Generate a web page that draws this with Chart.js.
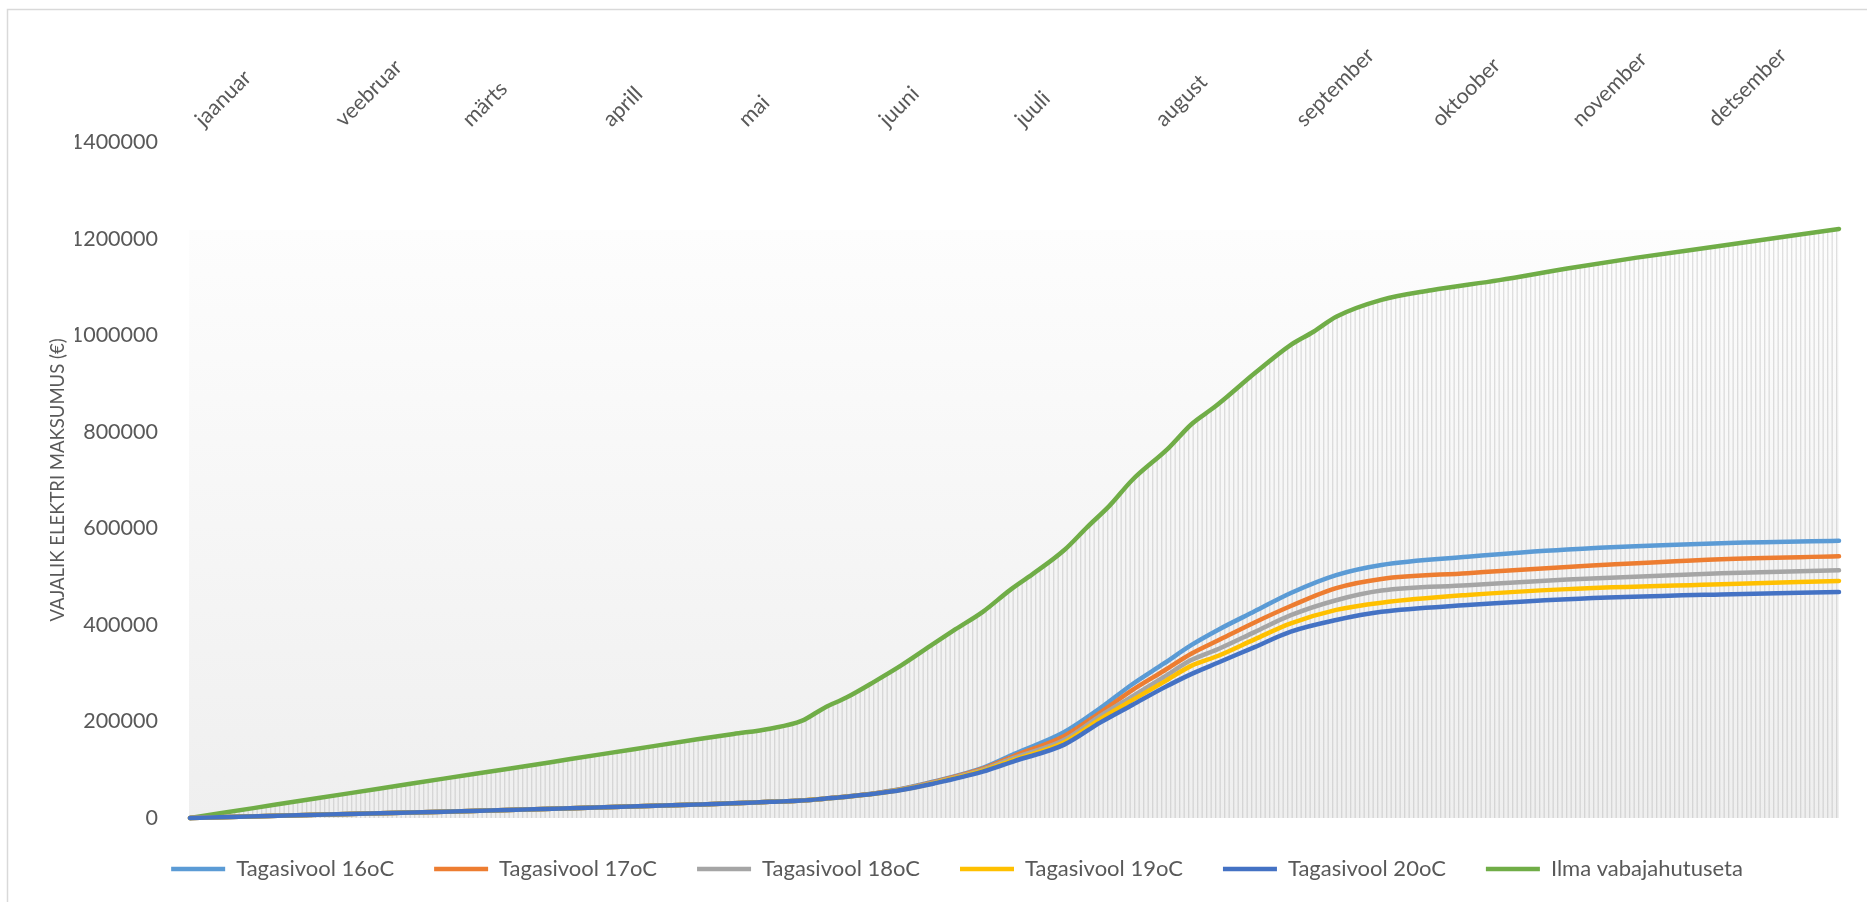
<!DOCTYPE html>
<html>
<head>
<meta charset="utf-8">
<title>Vajalik elektri maksumus</title>
<script src="https://cdn.jsdelivr.net/npm/chart.js@4.4.1/dist/chart.umd.min.js"></script>
<style>
  html, body { margin: 0; padding: 0; background: #ffffff; }
  #wrap { width: 1867px; height: 902px; position: relative; }
</style>
</head>
<body>
<div id="wrap"><canvas id="chart"></canvas></div>
<script>
// Month labels and the day of the year each month starts on
const monthNames = ['jaanuar', 'veebruar', 'märts', 'aprill', 'mai', 'juuni',
                    'juuli', 'august', 'september', 'oktoober', 'november', 'detsember'];
const monthStartDays = [0, 31, 59, 90, 120, 151, 181, 212, 243, 273, 304, 334];

// Cumulative cost without free cooling (€), by day of year
const noCoolingDays = [0, 14, 28, 42, 56, 70, 84, 98, 112, 120, 128, 135, 140, 145, 151, 157,
                       164, 169, 175, 181, 186, 193, 198, 203, 208, 216, 221, 226, 229, 235,
                       243, 248, 253, 263, 274, 289, 304, 319, 338, 364];
const noCooling = [0, 20500, 41000, 61000, 81500, 101500, 122000, 142500, 163000, 174000,
                   185000, 201000, 228000, 250000, 282000, 316000, 360000, 391000, 427000,
                   472000, 505000, 555000, 602000, 647000, 700000, 766000, 815000, 850000,
                   873000, 921000, 980000, 1007000, 1038000, 1073000, 1093000, 1114000,
                   1138000, 1160000, 1185000, 1220000];

// Cumulative cost with free cooling at different return temperatures (€)
const returnDays = [0, 28, 56, 84, 112, 120, 128, 135, 140, 145, 151, 157, 164, 175, 182,
                    193, 201, 208, 215, 221, 227, 235, 243, 253, 263, 282, 304, 338, 364];
const return16 = [0, 6500, 13000, 20000, 28000, 30500, 33500, 36000, 40000, 44500, 51000,
                  60000, 75000, 104000, 133000, 178000, 228000, 277000, 320000, 358000,
                  390000, 428000, 466000, 503000, 524000, 541000, 556000, 569000, 574000];
const return17 = [0, 6500, 13000, 20000, 28000, 30500, 33500, 36000, 40000, 44400, 50800,
                  59500, 74000, 102000, 129000, 170000, 219000, 265000, 305000, 340000,
                  368000, 405000, 439000, 476000, 495000, 507000, 520000, 536000, 542000];
const return18 = [0, 6500, 13000, 20000, 28000, 30500, 33500, 36000, 40000, 44200, 50500,
                  59000, 73000, 100000, 125000, 162000, 212000, 252000, 292000, 327000,
                  350000, 385000, 420000, 451000, 471000, 482000, 494000, 507000, 513000];
const return19 = [0, 6500, 13000, 20000, 28000, 30500, 33500, 36000, 40000, 44100, 50200,
                  58500, 72000, 98000, 121000, 157000, 205000, 244000, 282000, 315000,
                  336000, 370000, 403000, 431000, 446000, 462000, 474000, 484000, 491000];
const return20 = [0, 6500, 13000, 20000, 28000, 30500, 33500, 36000, 40000, 44000, 50000,
                  58000, 71000, 96000, 118000, 152000, 198000, 234000, 270000, 298000,
                  322000, 354000, 386000, 410000, 427000, 441000, 453000, 463000, 468000];

const TEXT = '#595959';
const FONT = "Lato, 'Open Sans', sans-serif";

// thin vertical drop lines under the uncooled curve
function dropLinePattern() {
  const c = document.createElement('canvas');
  c.width = 9; c.height = 4;
  const g = c.getContext('2d');
  g.fillStyle = 'rgba(140,140,140,0.26)';
  g.fillRect(0, 0, 1.3, 4);
  g.fillRect(4.5, 0, 1.3, 4);
  return g.createPattern(c, 'repeat');
}

function series(label, days, values, color, order) {
  return {
    label,
    data: days.map((d, i) => ({ x: d, y: values[i] })),
    borderColor: color,
    backgroundColor: color,
    borderWidth: 4.5,
    borderCapStyle: 'round',
    borderJoinStyle: 'round',
    pointRadius: 0,
    pointHoverRadius: 0,
    cubicInterpolationMode: 'monotone',
    fill: false,
    clip: false,
    order
  };
}

const uncooled = series('Ilma vabajahutuseta', noCoolingDays, noCooling, '#70AD47', 5);
uncooled.fill = 'origin';
uncooled.backgroundColor = dropLinePattern();

// plot-area shading and the outer frame
const framePlugin = {
  id: 'framePlugin',
  beforeDraw(chart) {
    const { ctx, chartArea: a } = chart;
    ctx.save();
    ctx.fillStyle = '#ffffff';
    ctx.fillRect(0, 0, chart.width, chart.height);
    const top = a.top + 88;
    const grad = ctx.createLinearGradient(0, top, 0, a.bottom);
    grad.addColorStop(0, '#fdfdfd');
    grad.addColorStop(1, '#efefef');
    ctx.fillStyle = grad;
    ctx.fillRect(a.left - 1, top, a.right - a.left + 1, a.bottom - top);
    ctx.strokeStyle = '#d9d9d9';
    ctx.lineWidth = 1.5;
    ctx.beginPath();
    ctx.moveTo(7.5, chart.height);
    ctx.lineTo(7.5, 9.5);
    ctx.lineTo(chart.width, 9.5);
    ctx.stroke();
    ctx.restore();
  }
};

new Chart(document.getElementById('chart'), {
  type: 'line',
  data: {
    datasets: [
      series('Tagasivool 16oC', returnDays, return16, '#5B9BD5', 4),
      series('Tagasivool 17oC', returnDays, return17, '#ED7D31', 3),
      series('Tagasivool 18oC', returnDays, return18, '#A5A5A5', 2),
      series('Tagasivool 19oC', returnDays, return19, '#FFC000', 1),
      series('Tagasivool 20oC', returnDays, return20, '#4472C4', 0),
      uncooled
    ]
  },
  options: {
    responsive: true,
    maintainAspectRatio: false,
    animation: false,
    devicePixelRatio: 1,
    layout: { padding: { left: 75, right: 28, top: 0, bottom: 12 } },
    plugins: {
      tooltip: { enabled: false },
      legend: {
        position: 'bottom',
        labels: {
          usePointStyle: true,
          pointStyle: 'line',
          pointStyleWidth: 54,
          padding: 40,
          color: TEXT,
          font: { family: FONT, size: 22 },
          sort: (a, b) => a.datasetIndex - b.datasetIndex
        }
      }
    },
    scales: {
      x: {
        type: 'linear',
        position: 'top',
        min: 0,
        max: 364,
        grid: { display: false },
        border: { display: false },
        afterBuildTicks(scale) {
          scale.ticks = monthStartDays.map(d => ({ value: d }));
        },
        afterFit(scale) { scale.height = 142; },
        ticks: {
          autoSkip: false,
          minRotation: 45,
          maxRotation: 45,
          padding: 2,
          labelOffset: 27,
          color: TEXT,
          font: { family: FONT, size: 21.5 },
          callback: (v, i) => monthNames[i]
        }
      },
      y: {
        min: 0,
        max: 1400000,
        grid: { display: false },
        border: { display: false },
        afterFit(scale) { scale.width = 115; },
        ticks: {
          stepSize: 200000,
          padding: 24,
          color: TEXT,
          font: { family: FONT, size: 21.5 },
          callback: v => String(v)
        },
        title: {
          display: true,
          text: 'VAJALIK ELEKTRI MAKSUMUS (€)',
          color: TEXT,
          font: { family: FONT, size: 18.5 },
          padding: { top: -28, bottom: 0 }
        }
      }
    }
  },
  plugins: [framePlugin]
});
</script>
</body>
</html>
